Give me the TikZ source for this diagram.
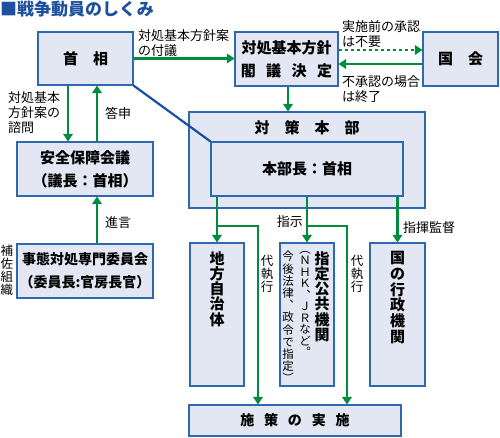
\documentclass[tikz,border=0pt]{standalone}
\usepackage{fontspec}
\setmainfont{Noto Sans CJK JP}
\usetikzlibrary{arrows.meta}

\definecolor{boxfill}{RGB}{226,231,243}
\definecolor{boxline}{RGB}{46,105,175}
\definecolor{arrgreen}{RGB}{0,140,60}
\definecolor{linkblue}{RGB}{25,80,160}
\definecolor{titleblue}{RGB}{30,80,160}

\begin{document}
\begin{tikzpicture}[x=1pt,y=-1pt,
	box/.style={draw=boxline, fill=boxfill, line width=1.1pt, inner sep=0pt, align=center, font=\fontsize{15}{23}\selectfont\bfseries},
	vtext/.style={inner sep=0pt, align=center, anchor=north, font=\fontsize{15}{15.3}\selectfont\bfseries},
	lbl/.style={inner sep=0pt, align=left, font=\fontsize{13}{15}\selectfont},
	vlbl/.style={inner sep=0pt, align=center, anchor=north, font=\fontsize{12.5}{13}\selectfont},
	garrow/.style={draw=arrgreen, line width=2.4pt, -{Triangle[width=9.5pt,length=7.5pt]}}]
	\useasboundingbox (0,0) rectangle (500,437);
	\node[anchor=north west, inner sep=0pt, text=titleblue, font=\fontsize{17}{17}\selectfont\bfseries] (title) at (0,1) {■戦争動員のしくみ};
	% boxes
	\node[box, minimum width=95, minimum height=53] (shusho) at (85.5,58.5) {首　相};
	\node[box, minimum width=103, minimum height=54] (kakugi) at (286.5,59) {対処基本方針\\閣\hspace{.7em}議\hspace{.7em}決\hspace{.7em}定};
	\node[box, minimum width=75, minimum height=54] (kokkai) at (460.5,59) {国　会};
	\node[box, minimum width=136, minimum height=54] (anzen) at (85,169) {安全保障会議\\（議長：首相）};
	\node[box, minimum width=136, minimum height=54, font=\fontsize{14}{23}\selectfont\bfseries] (jitai) at (85,271) {事態対処専門委員会\\（委員長:官房長官）};
	\node[box, minimum width=236, minimum height=96] (taisaku) at (307,160) {};
	\node[box, draw=none, fill=none] (taisakutxt) at (307,128) {対　策　本　部};
	\node[box, minimum width=192, minimum height=54] (honbu) at (307,169) {本部長：首相};
	\node[box, minimum width=54, minimum height=143] (chiho) at (217,314.5) {};
	\node[vtext] (chihotxt) at (217,251) {地\\方\\自\\治\\体};
	\node[box, minimum width=54, minimum height=143] (shitei) at (307,314.5) {};
	\node[vtext] (shiteitxt) at (322,251) {指\\定\\公\\共\\機\\関};
	\node[vtext, font=\fontsize{11.5}{11.5}\selectfont] (shiteirei) at (305,251) {︵\\Ｎ\\Ｈ\\Ｋ\\︑\\Ｊ\\Ｒ\\な\\ど\\︒};
	\node[vtext, font=\fontsize{11.5}{12.2}\selectfont] (shiteiho) at (288,251) {今\\後\\法\\律\\︑\\政\\令\\で\\指\\定\\︶};
	\node[box, minimum width=55, minimum height=143] (gyosei) at (397.5,314.5) {};
	\node[vtext, font=\fontsize{15}{15.8}\selectfont\bfseries] (gyoseitxt) at (397.5,251) {国\\の\\行\\政\\機\\関};
	\node[box, minimum width=212, minimum height=31, font=\fontsize{14}{16}\selectfont\bfseries] (shisaku) at (295,420.5) {施\hspace{.7em}策\hspace{.7em}の\hspace{.7em}実\hspace{.7em}施};
	% connectors
	\draw[garrow] (shusho.east) -- (shusho.east -| kakugi.west);
	\draw[garrow, dash pattern=on 3pt off 3pt] ([yshift=9pt]kakugi.east) -- ([yshift=9pt]kokkai.west);
	\draw[garrow] ([yshift=-5pt]kokkai.west) -- ([yshift=-5pt]kakugi.east);
	\draw[garrow] ([xshift=1.5pt]kakugi.south) -- ([xshift=1.5pt]kakugi.south |- taisaku.north);
	\draw[linkblue, line width=2.2pt] (shusho.south east) -- (honbu.north west);
	\draw[garrow] ([xshift=-17.5pt]shusho.south) -- ([xshift=-17pt]anzen.north);
	\draw[garrow] ([xshift=12pt]anzen.north) -- ([xshift=11.5pt]shusho.south);
	\draw[garrow] ([xshift=12pt]jitai.north) -- ([xshift=12pt]anzen.south);
	\coordinate (dai1) at (258,0);
	\coordinate (dai2) at (347,0);
	\draw[garrow] (honbu.south -| chiho.north) -- (chiho.north);
	\draw[garrow] (chiho.north |- 0,226) -| (dai1 |- shisaku.north);
	\draw[garrow] (honbu.south -| shitei.north) -- (shitei.north);
	\draw[garrow] (shitei.north |- 0,226) -| (dai2 |- shisaku.north);
	\draw[garrow] (honbu.south -| gyosei.north) -- (gyosei.north);
	% labels
	\node[lbl, anchor=north west] (fugi) at (138,29) {対処基本方針案\\の付議};
	\node[lbl, anchor=north west] (fuyo) at (342,20) {実施前の承認\\は不要};
	\node[lbl, anchor=north west] (shuryo) at (342,75) {不承認の場合\\は終了};
	\node[lbl, anchor=north west] (shimon) at (8,91) {対処基本\\方針案の\\諮問};
	\node[lbl, anchor=west] (toshin) at (105,113) {答申};
	\node[lbl, anchor=west] (shingen) at (105,223) {進言};
	\node[vlbl] (hosa) at (7,245) {補\\佐\\組\\織};
	\node[lbl, anchor=east] (shiji) at (303,222) {指示};
	\node[lbl, anchor=west] (shiki) at (403,228) {指揮監督};
	\node[vlbl] (daishiko1) at (267,255) {代\\執\\行};
	\node[vlbl] (daishiko2) at (357,255) {代\\執\\行};
\end{tikzpicture}
\end{document}
